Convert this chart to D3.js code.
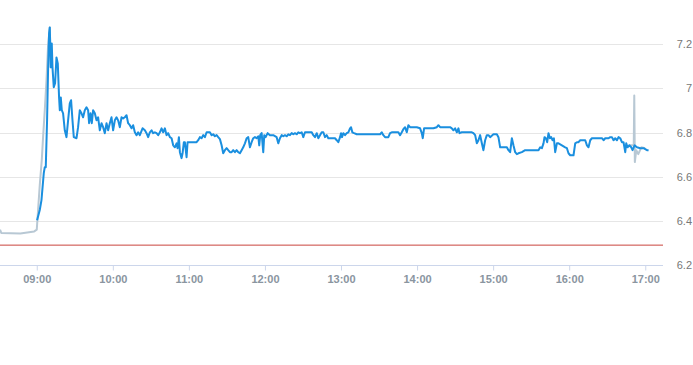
<!DOCTYPE html>
<html>
<head>
<meta charset="utf-8">
<script src="https://cdn.jsdelivr.net/npm/d3@7"></script>
<style>
  html, body { margin: 0; padding: 0; background: #fff; }
  svg { display: block; }
  text { font-family: "Liberation Sans", Arial, sans-serif; }
</style>
</head>
<body>
<svg id="chart" width="693" height="365"></svg>
<script>
// ---------- data ----------
const blueTimes = [
"09:00:15","09:02:22","09:03:43","09:05:32","09:06:19","09:07:06","09:08:08","09:08:55","09:09:43","09:10:16",
"09:11:03","09:11:50","09:12:24","09:13:25","09:14:27","09:15:33","09:16:35","09:17:36","09:18:10","09:18:57",
"09:19:44","09:20:46","09:22:06","09:23:27","09:24:43","09:26:03","09:27:05","09:28:11","09:29:13","09:31:20",
"09:32:36","09:33:57","09:35:17","09:36:33","09:37:54","09:39:14","09:40:30","09:41:17","09:42:24","09:43:25",
"09:44:27","09:45:48","09:47:08","09:48:24","09:49:44","09:51:05","09:52:21","09:53:41","09:55:02","09:56:18",
"09:57:38","09:58:58","10:00:14","10:01:35","10:02:55","10:04:11","10:05:32","10:06:52","10:08:08","10:09:28",
"10:10:49","10:12:05","10:13:25","10:14:46","10:16:02","10:17:22","10:18:43","10:19:59","10:21:19","10:23:27",
"10:25:16","10:26:36","10:27:52","10:29:13","10:30:33","10:31:49","10:33:10","10:34:30","10:35:46","10:37:07",
"10:38:27","10:39:43","10:41:03","10:42:24","10:43:40","10:45:00","10:46:21","10:47:37","10:48:57","10:50:18",
"10:51:05","10:52:07","10:52:54","10:54:14","10:55:01","10:56:03","10:56:50","10:58:10","10:58:58","11:00:47",
"11:03:24","11:06:05","11:07:21","11:08:41","11:10:02","11:11:18","11:12:38","11:13:59","11:15:15","11:16:35",
"11:17:56","11:19:11","11:20:32","11:21:52","11:23:08","11:24:29","11:25:49","11:27:05","11:28:25","11:29:46",
"11:31:02","11:32:22","11:33:43","11:34:58","11:36:19","11:37:40","11:38:55","11:40:16","11:41:36","11:42:52",
"11:44:13","11:45:33","11:46:49","11:48:10","11:49:30","11:50:46","11:52:07","11:53:27","11:54:43","11:55:30",
"11:56:18","11:57:24","11:58:40","11:59:27","12:00:33","12:02:08","12:03:57","12:06:33","12:09:14","12:10:30",
"12:11:50","12:13:11","12:14:27","12:15:48","12:17:08","12:18:24","12:19:45","12:21:05","12:22:21","12:23:41",
"12:25:02","12:26:18","12:27:38","12:28:59","12:30:15","12:31:35","12:34:12","12:36:53","12:38:09","12:39:29",
"12:40:50","12:42:06","12:43:26","12:44:47","12:46:03","12:47:23","12:48:44","12:49:59","12:52:40","12:55:16",
"12:56:37","12:57:53","12:59:14","13:00:01","13:00:48","13:01:50","13:03:10","13:04:31","13:05:47","13:07:07",
"13:07:55","13:08:56","13:10:17","13:12:25","13:15:01","13:18:57","13:22:54","13:26:51","13:30:48","13:32:08",
"13:33:24","13:34:45","13:37:21","13:38:42","13:40:02","13:42:38","13:45:15","13:46:35","13:47:56","13:49:11",
"13:50:32","13:51:52","13:53:08","13:54:28","13:57:05","13:59:46","14:02:22","14:03:43","14:04:30","14:05:32",
"14:07:40","14:10:16","14:12:53","14:15:34","14:16:50","14:18:10","14:20:47","14:23:28","14:26:04","14:27:25",
"14:28:41","14:30:01","14:31:22","14:32:38","14:33:25","14:35:18","14:39:15","14:43:12","14:44:28","14:45:49",
"14:47:09","14:48:25","14:49:45","14:51:06","14:52:21","14:53:42","14:55:02","14:56:18","14:57:38","15:00:15",
"15:02:56","15:04:12","15:05:32","15:08:09","15:10:50","15:12:06","15:13:26","15:14:47","15:16:02","15:17:23",
"15:18:44","15:19:59","15:22:40","15:25:17","15:27:53","15:30:34","15:33:11","15:35:48","15:37:08","15:38:28",
"15:39:44","15:40:32","15:41:38","15:42:39","15:43:41","15:44:47","15:45:49","15:46:50","15:47:56","15:48:58",
"15:50:18","15:51:34","15:54:15","15:56:51","15:58:12","15:59:28","16:00:48","16:02:09","16:03:25","16:04:45",
"16:06:06","16:07:22","16:08:42","16:11:19","16:12:39","16:14:00","16:15:15","16:16:36","16:17:56","16:20:33",
"16:23:09","16:25:50","16:27:06","16:28:26","16:31:03","16:32:23","16:33:43","16:34:59","16:36:19","16:37:40",
"16:38:55","16:40:16","16:41:36","16:42:52","16:44:13","16:45:00","16:46:02","16:47:22","16:48:57","16:49:59",
"16:51:34","16:53:27","16:56:03","16:58:40","17:01:21","17:02:37"
];
const blueValues = [
6.403,6.449,6.494,6.616,6.643,6.643,6.855,7.081,7.249,7.276,
7.095,7.203,7.095,7.005,7.023,7.14,7.113,6.959,6.901,6.959,
6.901,6.887,6.81,6.779,6.855,6.932,6.946,6.855,6.779,6.774,
6.824,6.901,6.887,6.869,6.901,6.914,6.901,6.842,6.887,6.842,
6.901,6.887,6.855,6.869,6.81,6.842,6.824,6.797,6.842,6.81,
6.842,6.869,6.81,6.855,6.869,6.855,6.824,6.869,6.864,6.869,
6.878,6.842,6.833,6.819,6.833,6.801,6.788,6.801,6.788,6.819,
6.81,6.797,6.779,6.801,6.81,6.797,6.801,6.797,6.788,6.801,
6.819,6.801,6.819,6.788,6.797,6.779,6.774,6.742,6.733,6.751,
6.729,6.779,6.711,6.684,6.706,6.756,6.756,6.688,6.756,6.756,
6.756,6.756,6.765,6.779,6.774,6.788,6.779,6.801,6.801,6.801,
6.788,6.792,6.783,6.788,6.779,6.77,6.742,6.706,6.72,6.729,
6.72,6.711,6.711,6.72,6.711,6.72,6.711,6.706,6.72,6.733,
6.751,6.774,6.779,6.733,6.756,6.774,6.779,6.774,6.783,6.742,
6.788,6.797,6.711,6.788,6.779,6.797,6.788,6.788,6.779,6.751,
6.774,6.788,6.783,6.788,6.783,6.792,6.788,6.797,6.792,6.797,
6.792,6.801,6.797,6.801,6.779,6.801,6.801,6.801,6.788,6.779,
6.797,6.774,6.788,6.801,6.801,6.779,6.788,6.774,6.774,6.774,
6.765,6.756,6.779,6.797,6.779,6.797,6.788,6.797,6.801,6.819,
6.824,6.801,6.797,6.792,6.792,6.792,6.792,6.792,6.792,6.801,
6.788,6.779,6.779,6.797,6.801,6.801,6.801,6.788,6.801,6.815,
6.824,6.801,6.833,6.824,6.824,6.824,6.819,6.797,6.774,6.819,
6.819,6.819,6.819,6.824,6.833,6.824,6.824,6.824,6.824,6.819,
6.81,6.819,6.801,6.819,6.797,6.801,6.801,6.801,6.797,6.788,
6.751,6.765,6.788,6.751,6.72,6.765,6.788,6.788,6.779,6.792,
6.792,6.779,6.733,6.733,6.733,6.72,6.711,6.774,6.742,6.711,
6.702,6.706,6.711,6.72,6.72,6.72,6.72,6.72,6.733,6.729,
6.751,6.779,6.774,6.756,6.797,6.774,6.779,6.765,6.774,6.711,
6.751,6.751,6.742,6.733,6.729,6.706,6.697,6.697,6.697,6.751,
6.756,6.756,6.765,6.765,6.765,6.742,6.733,6.765,6.774,6.774,
6.774,6.774,6.765,6.774,6.774,6.779,6.779,6.765,6.774,6.765,
6.779,6.774,6.756,6.756,6.711,6.751,6.733,6.742,6.733,6.72,
6.742,6.733,6.729,6.729,6.72,6.72
];
const grayOpenTimes  = ["08:31:00","08:32:00","08:47:00","08:58:00","09:00:00","09:01:02","09:02:22","09:03:57","09:04:59","09:06:19","09:07:40","09:08:55","09:10:16","09:11:03"];
const grayOpenValues = [6.36,6.345,6.343,6.352,6.36,6.449,6.562,6.675,6.779,6.901,7.036,7.194,7.276,7.095];
const grayCloseTimes  = ["16:47:00","16:50:56","16:51:20","16:51:47","16:52:55","16:54:30","16:56:54","17:00:00"];
const grayCloseValues = [6.742,6.742,6.968,6.666,6.72,6.702,6.733,6.729];
const referenceLevel = 6.29;
const yTickValues = [6.2, 6.4, 6.6, 6.8, 7, 7.2];
const xTickLabels = ["09:00","10:00","11:00","12:00","13:00","14:00","15:00","16:00","17:00"];
const timeDomain = ["08:31:00","17:14:00"];
const valueDomain = [6.2, 7.4];

// ---------- chart ----------
const parseT = d3.timeParse("%H:%M:%S");
const parseHM = d3.timeParse("%H:%M");
const svg = d3.select("#chart");
const plot = { left: 0, right: 663, top: 0, bottom: 265 };

const x = d3.scaleTime().domain(timeDomain.map(parseT)).range([plot.left, plot.right]);
const y = d3.scaleLinear().domain(valueDomain).range([plot.bottom, plot.top]);

// gridlines
svg.append("g").selectAll("line").data(yTickValues.filter(v => v !== 6.2)).join("line")
  .attr("x1", plot.left).attr("x2", plot.right)
  .attr("y1", d => Math.round(y(d)) + 0.5).attr("y2", d => Math.round(y(d)) + 0.5)
  .attr("stroke", "#e6e6e6").attr("stroke-width", 1);

// right axis labels
svg.append("g").selectAll("text").data(yTickValues).join("text")
  .attr("x", 692).attr("y", d => y(d) + 4)
  .attr("text-anchor", "end")
  .attr("font-size", 11).attr("fill", "#777")
  .text(d => d3.format("")(d));

// x axis
const xAxis = d3.axisBottom(x)
  .tickValues(xTickLabels.map(parseHM))
  .tickFormat(d3.timeFormat("%H:%M"))
  .tickSize(5).tickPadding(5);
const gx = svg.append("g").attr("transform", `translate(0,${plot.bottom + 0.5})`).call(xAxis);
gx.select(".domain").attr("stroke", "#ccd6eb").attr("d", `M${plot.left},0H${plot.right}`);
gx.selectAll(".tick line").attr("stroke", "#ccd6eb");
gx.selectAll(".tick text").attr("font-size", 11).attr("fill", "#8a95a0")
  .attr("font-weight", "bold")
  .attr("font-family", "'Liberation Sans', Arial, sans-serif");

// reference line
svg.append("line")
  .attr("x1", plot.left).attr("x2", plot.right)
  .attr("y1", y(referenceLevel)).attr("y2", y(referenceLevel))
  .attr("stroke", "#c9433d").attr("stroke-width", 1);

const line = d3.line().x(d => x(d[0])).y(d => y(d[1]));
const zipT = (ts, vs) => ts.map((t, i) => [parseT(t), vs[i]]);

[zipT(grayOpenTimes, grayOpenValues), zipT(grayCloseTimes, grayCloseValues)].forEach(s => {
  svg.append("path").datum(s).attr("d", line)
    .attr("fill", "none").attr("stroke", "#b8c8d4").attr("stroke-width", 2)
    .attr("stroke-linejoin", "round");
});

svg.append("path").datum(zipT(blueTimes, blueValues)).attr("d", line)
  .attr("fill", "none").attr("stroke", "#1a8fdf").attr("stroke-width", 2)
  .attr("stroke-linejoin", "round");
</script>
</body>
</html>
